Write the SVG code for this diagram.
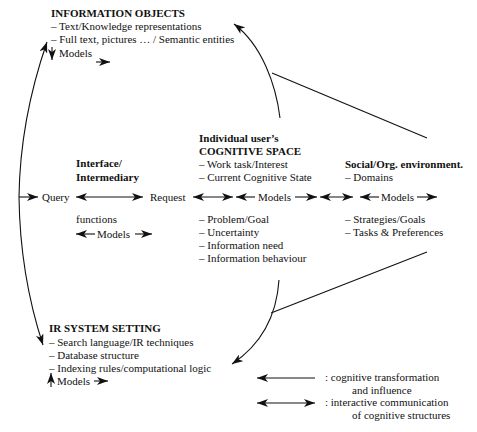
<svg xmlns="http://www.w3.org/2000/svg" width="477" height="432" viewBox="0 0 477 432" font-family="'Liberation Serif', 'DejaVu Serif', serif">
<style>
text{font-family:'Liberation Serif','DejaVu Serif',serif;font-size:11px;fill:#111}
.b{font-weight:bold}
.ln{stroke:#111;stroke-width:1.1;fill:none}
.s{marker-end:url(#ah)}
.d{marker-start:url(#ah);marker-end:url(#ah)}
</style>
<defs>
<marker id="ah" markerUnits="userSpaceOnUse" markerWidth="12" markerHeight="8" refX="11" refY="4" orient="auto-start-reverse">
<path d="M0,0 L11,4 L0,8 L3,4 z" fill="#111"/>
</marker>
</defs>
<rect width="477" height="432" fill="#fff"/>
<g id="connectors">
<path class="ln s" d="M280,118 C276,85 262,45 234,24"/>
<path class="ln" d="M272,73 L427,138"/>
<path class="ln s" d="M279,280 C277,310 265,342 232,364"/>
<path class="ln" d="M271,313 L427,252"/>
<path class="ln" d="M47,42 Q20,120 19,197 Q20,275 43,345" marker-start="url(#ah)" marker-end="url(#ah)"/>
<path class="ln s" d="M19,197 L38,197"/>
<path class="ln s" d="M52,47 L52,60"/>
<path class="ln s" d="M96,62 L110,62"/>
<path class="ln s" d="M51,387 L51,373"/>
<path class="ln s" d="M94,381 L108,381"/>
<path class="ln d" d="M76,197 L143,197"/>
<path class="ln d" d="M193,197 L233,197"/>
<path class="ln s" d="M255,197 L236,197"/>
<path class="ln s" d="M295,197 L317,197"/>
<path class="ln d" d="M320,197 L353,197"/>
<path class="ln s" d="M379,197 L360,197"/>
<path class="ln s" d="M417,197 L437,197"/>
<path class="ln s" d="M95,234 L76,234"/>
<path class="ln s" d="M135,234 L152,234"/>
</g>
<g id="information-objects">
<text class="b" x="51" y="17">INFORMATION OBJECTS</text>
<text x="51" y="30">– Text/Knowledge representations</text>
<text x="51" y="43">– Full text, pictures … / Semantic entities</text>
<text x="59" y="57">Models</text>
</g>
<g id="query">
<text x="42" y="201">Query</text>
</g>
<g id="interface">
<text class="b" x="76" y="167">Interface/</text>
<text class="b" x="76" y="181">Intermediary</text>
<text x="76" y="223">functions</text>
<text x="97" y="238">Models</text>
</g>
<g id="request">
<text x="150" y="201">Request</text>
</g>
<g id="cognitive-space">
<text class="b" x="199" y="142">Individual user’s</text>
<text class="b" x="199" y="155">COGNITIVE SPACE</text>
<text x="199" y="168">– Work task/Interest</text>
<text x="199" y="181">– Current Cognitive State</text>
<text x="258" y="201">Models</text>
<text x="199" y="223">– Problem/Goal</text>
<text x="199" y="236">– Uncertainty</text>
<text x="199" y="249">– Information need</text>
<text x="199" y="262">– Information behaviour</text>
</g>
<g id="social-environment">
<text class="b" x="345" y="168">Social/Org. environment.</text>
<text x="345" y="181">– Domains</text>
<text x="381" y="201">Models</text>
<text x="345" y="223">– Strategies/Goals</text>
<text x="345" y="236">– Tasks &amp; Preferences</text>
</g>
<g id="ir-system-setting">
<text class="b" x="49" y="332">IR SYSTEM SETTING</text>
<text x="49" y="346">– Search language/IR techniques</text>
<text x="49" y="359">– Database structure</text>
<text x="49" y="372">– Indexing rules/computational logic</text>
<text x="57" y="385">Models</text>
</g>
<g id="legend">
<path class="ln s" d="M315,378 L257,378"/>
<path class="ln d" d="M257,403 L315,403"/>
<text x="325" y="381">: cognitive transformation</text>
<text x="352" y="394">and influence</text>
<text x="325" y="406">: interactive communication</text>
<text x="352" y="419">of cognitive structures</text>
</g>
</svg>
